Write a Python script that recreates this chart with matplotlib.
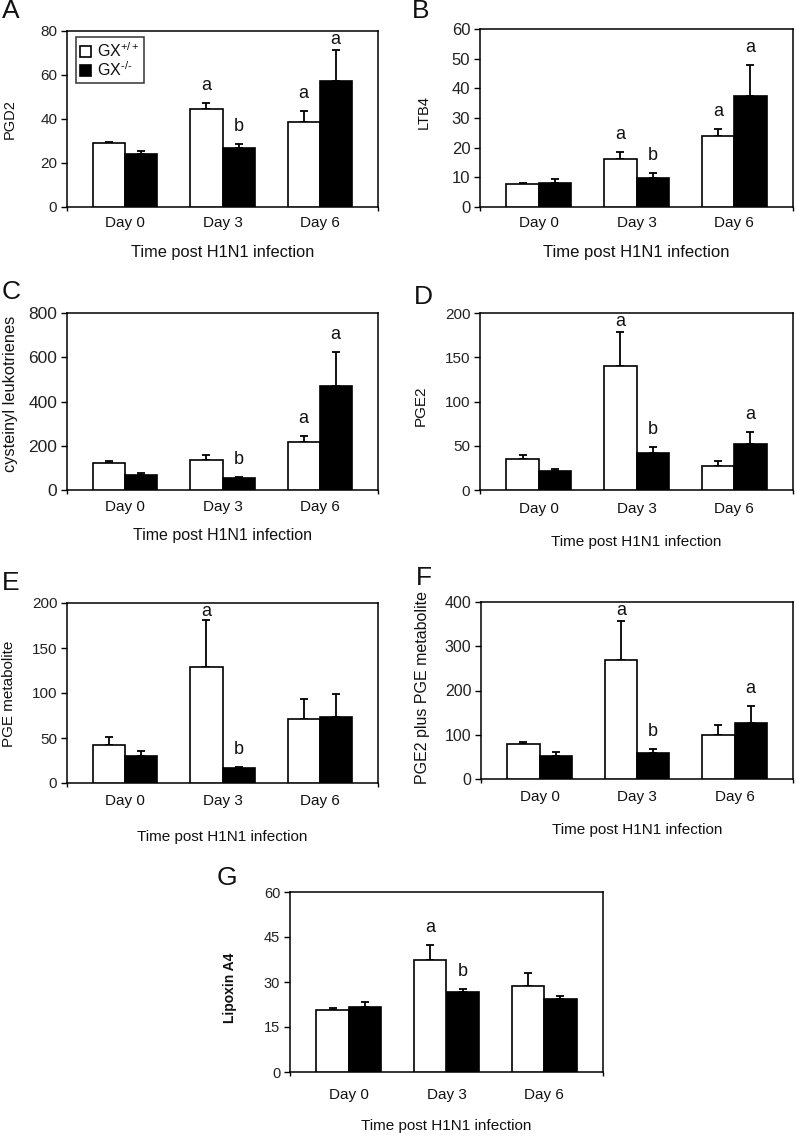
import matplotlib
matplotlib.use("Agg")
import matplotlib.pyplot as plt
from matplotlib.patches import Patch
import numpy as np

plt.rcParams['font.family'] = ['Liberation Sans', 'DejaVu Sans']
plt.rcParams['mathtext.fontset'] = 'custom'
plt.rcParams['mathtext.rm'] = 'Liberation Sans'
plt.rcParams['mathtext.it'] = 'Liberation Sans'
plt.rcParams['mathtext.bf'] = 'Liberation Sans:bold'

days = ["Day 0", "Day 3", "Day 6"]
xlabel_text = "Time post H1N1 infection"
series_names = [r"GX$^{\mathrm{+/+}}$", r"GX$^{\text{-/-}}$"]

# Panel A: PGD2
pgd2_wt = [29.2, 44.7, 38.6]
pgd2_wt_err = [0.5, 2.6, 4.9]
pgd2_ko = [24.2, 26.8, 57.1]
pgd2_ko_err = [1.1, 2.0, 14.3]
pgd2_letters_wt = ["", "a", "a"]
pgd2_letters_ko = ["", "b", "a"]
pgd2_ticks = [0, 20, 40, 60, 80]

# Panel B: LTB4
ltb4_wt = [7.6, 16.1, 23.9]
ltb4_wt_err = [0.6, 2.5, 2.4]
ltb4_ko = [8.0, 9.7, 37.4]
ltb4_ko_err = [1.5, 1.8, 10.6]
ltb4_letters_wt = ["", "a", "a"]
ltb4_letters_ko = ["", "b", "a"]
ltb4_ticks = [0, 10, 20, 30, 40, 50, 60]

# Panel C: cysteinyl leukotrienes
cyslt_wt = [122, 137, 219]
cyslt_wt_err = [11, 20, 24]
cyslt_ko = [68, 53, 468]
cyslt_ko_err = [10, 6, 157]
cyslt_letters_wt = ["", "", "a"]
cyslt_letters_ko = ["", "b", "a"]
cyslt_ticks = [0, 200, 400, 600, 800]

# Panel D: PGE2
pge2_wt = [35.5, 140, 27.5]
pge2_wt_err = [4.5, 38, 5.7]
pge2_ko = [21.9, 41.9, 52.5]
pge2_ko_err = [1.9, 6.4, 13.5]
pge2_letters_wt = ["", "a", ""]
pge2_letters_ko = ["", "b", "a"]
pge2_ticks = [0, 50, 100, 150, 200]

# Panel E: PGE metabolite
pgem_wt = [42.6, 129, 71.4]
pgem_wt_err = [8.6, 52, 22.4]
pgem_ko = [29.9, 16.8, 73.6]
pgem_ko_err = [6.0, 1.5, 25.1]
pgem_letters_wt = ["", "a", ""]
pgem_letters_ko = ["", "b", ""]
pgem_ticks = [0, 50, 100, 150, 200]

# Panel F: PGE2 plus PGE metabolite
pgesum_wt = [78.5, 270, 98.9]
pgesum_wt_err = [6.0, 86, 23]
pgesum_ko = [52.8, 59.6, 127]
pgesum_ko_err = [7.6, 7.6, 37]
pgesum_letters_wt = ["", "a", ""]
pgesum_letters_ko = ["", "b", "a"]
pgesum_ticks = [0, 100, 200, 300, 400]

# Panel G: Lipoxin A4
lxa4_wt = [20.6, 37.2, 28.6]
lxa4_wt_err = [0.7, 5.0, 4.3]
lxa4_ko = [21.7, 26.6, 24.3]
lxa4_ko_err = [1.5, 1.2, 1.1]
lxa4_letters_wt = ["", "a", ""]
lxa4_letters_ko = ["", "b", ""]
lxa4_ticks = [0, 15, 30, 45, 60]

W, H = 797, 1138
fig = plt.figure(figsize=(W / 100, H / 100), dpi=100)
TXT = '#111111'


def make_axes(left, right, top, bottom):
    return fig.add_axes([left / W, 1 - bottom / H, (right - left) / W, (bottom - top) / H])


def panel(box, letter, letter_xy, ylabel, wt, wt_err, ko, ko_err, lw, lk, ticks,
          day_y, xlab_y, ylab_xy, tick_fs=11, ylab_fs=11, xlab_fs=11,
          ylabel_bold=False, legend=False):
    left, right, top, bottom = box
    ax = make_axes(*box)
    x = np.arange(len(days))
    bw = 0.33
    ax.bar(x - bw / 2, wt, bw, color='white', edgecolor='black', linewidth=1.2, zorder=3)
    ax.bar(x + bw / 2, ko, bw, color='black', edgecolor='black', linewidth=1.2, zorder=3)
    ax.errorbar(x - bw / 2, wt, yerr=[np.zeros(3), wt_err], fmt='none', ecolor='black',
                elinewidth=1.3, capsize=3, capthick=1.3, zorder=2)
    ax.errorbar(x + bw / 2, ko, yerr=[np.zeros(3), ko_err], fmt='none', ecolor='black',
                elinewidth=1.3, capsize=3, capthick=1.3, zorder=2)
    ax.set_xlim(-0.6, 2.6)
    ymin, ymax = ticks[0], ticks[-1]
    ax.set_ylim(ymin, ymax)
    ax.set_yticks(ticks)
    ax.set_yticklabels([str(t) for t in ticks], fontsize=tick_fs, color='#222222')
    ax.tick_params(axis='y', direction='out', length=4, width=1, pad=3)
    ax.set_xticks(x)
    ax.set_xticklabels([])
    ax.tick_params(axis='x', length=0)
    ax.set_xticks([-0.6, 2.6], minor=True)
    ax.tick_params(axis='x', which='minor', direction='out', length=3, width=1)
    for s in ax.spines.values():
        s.set_linewidth(1.1)
    ax_h = bottom - top
    # significance letters above bars
    for xs, vals, errs, labs in ((x - bw / 2, wt, wt_err, lw), (x + bw / 2, ko, ko_err, lk)):
        for xi, v, e, t in zip(xs, vals, errs, labs):
            if not t:
                continue
            room_px = (ymax - (v + e)) / (ymax - ymin) * ax_h
            off_px = min(9.0, max(0.0, room_px - 17.0))
            ax.annotate(t, (xi, v + e), xytext=(0, off_px * 0.72), textcoords='offset points',
                        ha='center', va='bottom', fontsize=13, color=TXT)
    # category labels and axis title in figure pixels
    for xi, d in zip(x, days):
        xd = ax.transData.transform((xi, 0))[0]
        fig.text(xd / W, 1 - day_y / H, d, ha='center', va='center', fontsize=11, color=TXT)
    fig.text((left + right) / 2 / W, 1 - xlab_y / H, xlabel_text, ha='center', va='center',
             fontsize=xlab_fs, color=TXT)
    fig.text(ylab_xy[0] / W, 1 - ylab_xy[1] / H, ylabel, rotation=90, ha='center',
             va='center', fontsize=ylab_fs, color=TXT,
             fontweight='bold' if ylabel_bold else 'normal')
    fig.text(letter_xy[0] / W, 1 - letter_xy[1] / H, letter, ha='left', va='center',
             fontsize=19, color=TXT)
    if legend:
        handles = [Patch(facecolor='white', edgecolor='black', linewidth=1.2),
                   Patch(facecolor='black', edgecolor='black', linewidth=1.2)]
        lg = ax.legend(handles, series_names, loc='upper left', bbox_to_anchor=(0.028, 0.965),
                       fontsize=11.5, frameon=True, fancybox=False, handlelength=0.7,
                       handleheight=0.7, handletextpad=0.4, borderpad=0.25, labelspacing=0.05,
                       borderaxespad=0)
        lg.get_frame().set_edgecolor('black')
        lg.get_frame().set_linewidth(1.1)
        for t in lg.get_texts():
            t.set_color(TXT)
    return ax


panel((67, 378, 31, 207), "A", (2, 11), "PGD2", pgd2_wt, pgd2_wt_err, pgd2_ko, pgd2_ko_err,
      pgd2_letters_wt, pgd2_letters_ko, pgd2_ticks, 223, 253, (10, 119),
      tick_fs=11, ylab_fs=10.5, xlab_fs=11.8, legend=True)
panel((480, 793, 29, 207), "B", (412, 11), "LTB4", ltb4_wt, ltb4_wt_err, ltb4_ko, ltb4_ko_err,
      ltb4_letters_wt, ltb4_letters_ko, ltb4_ticks, 223, 253, (424, 112),
      tick_fs=12, ylab_fs=10.5, xlab_fs=12)
panel((67, 378, 313, 490), "C", (2, 292), "cysteinyl leukotrienes", cyslt_wt, cyslt_wt_err,
      cyslt_ko, cyslt_ko_err, cyslt_letters_wt, cyslt_letters_ko, cyslt_ticks, 507, 536, (11, 394),
      tick_fs=12.5, ylab_fs=11.8, xlab_fs=11.5)
panel((480, 793, 313, 490), "D", (414, 297), "PGE2", pge2_wt, pge2_wt_err, pge2_ko, pge2_ko_err,
      pge2_letters_wt, pge2_letters_ko, pge2_ticks, 509, 542, (421, 406),
      tick_fs=11, ylab_fs=11, xlab_fs=11)
panel((67, 378, 603, 783), "E", (2, 583), "PGE metabolite", pgem_wt, pgem_wt_err, pgem_ko,
      pgem_ko_err, pgem_letters_wt, pgem_letters_ko, pgem_ticks, 801, 837, (9, 694),
      tick_fs=11, ylab_fs=11, xlab_fs=11)
panel((481, 793, 602, 779), "F", (416, 578), "PGE2 plus PGE metabolite", pgesum_wt,
      pgesum_wt_err, pgesum_ko, pgesum_ko_err, pgesum_letters_wt, pgesum_letters_ko,
      pgesum_ticks, 797, 830, (423, 688), tick_fs=11.5, ylab_fs=11.5, xlab_fs=11)
panel((290, 603, 892, 1072), "G", (217, 878), "Lipoxin A4", lxa4_wt, lxa4_wt_err, lxa4_ko,
      lxa4_ko_err, lxa4_letters_wt, lxa4_letters_ko, lxa4_ticks, 1095, 1126, (230, 988),
      tick_fs=10.5, ylab_fs=10, xlab_fs=11, ylabel_bold=True)

fig.savefig("out.png", dpi=100, facecolor='white')
